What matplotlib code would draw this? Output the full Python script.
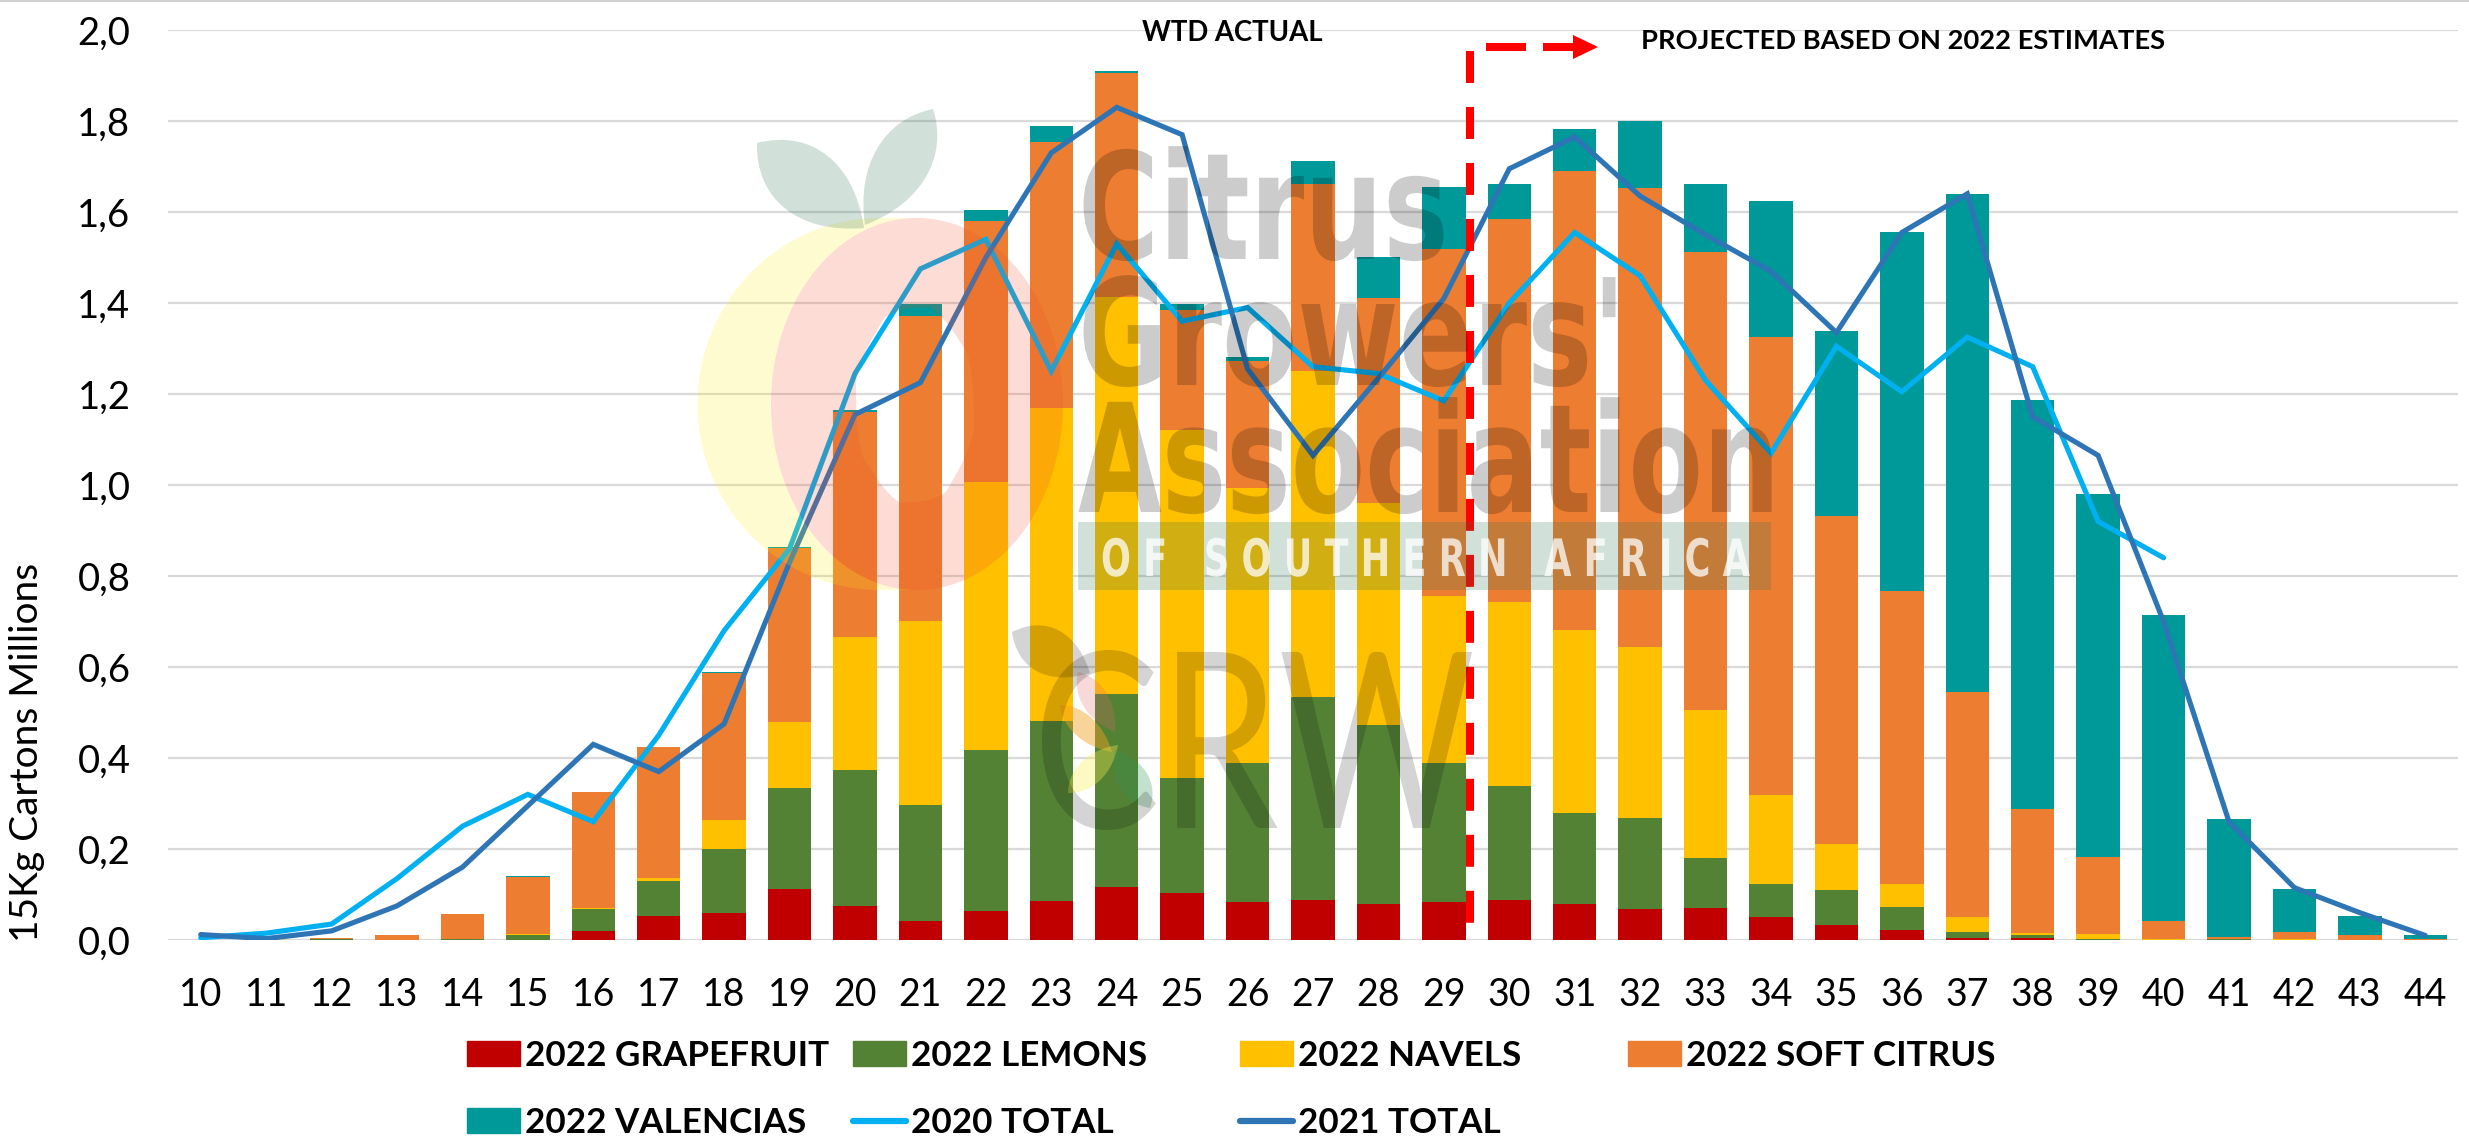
import matplotlib
matplotlib.use("Agg")
import numpy as np
import matplotlib.pyplot as plt
from matplotlib.patches import PathPatch, Patch, Rectangle
from matplotlib.path import Path
from matplotlib.lines import Line2D
from matplotlib.patheffects import AbstractPathEffect
from matplotlib.textpath import TextPath
from matplotlib.font_manager import FontProperties
from matplotlib.transforms import Affine2D

weeks = list(range(10, 45))
grapefruit = [0,0,0,0,0,0,.02,.053,.059,.111,.075,.042,.064,.086,.117,.104,.084,.089,.08,.084,.089,.08,.069,.07,.05,.032,.022,.005,.005,0,0,0,0,0,0]
lemons = [0,0,.003,0,.002,.012,.048,.077,.141,.222,.299,.255,.354,.395,.424,.252,.305,.444,.392,.306,.249,.199,.199,.11,.073,.078,.051,.013,.007,.003,0,.003,0,0,0]
navels = [0,0,0,0,0,.002,.002,.006,.064,.147,.293,.403,.589,.689,.873,.764,.605,.717,.488,.367,.405,.403,.375,.325,.195,.10,.05,.032,.003,.01,.003,0,.002,0,0]
soft_citrus = [0,0,.001,.011,.055,.125,.255,.288,.323,.381,.493,.672,.574,.584,.491,.264,.279,.412,.45,.761,.841,1.009,1.009,1.008,1.008,.721,.644,.495,.273,.169,.039,.004,.016,.01,.002]
valencias = [0,0,.001,.001,.001,.001,.001,.001,.001,.003,.004,.025,.024,.035,.004,.013,.009,.051,.09,.137,.078,.092,.148,.149,.298,.407,.788,1.095,.899,.798,.673,.26,.095,.043,.008]
total_2020 = [.005,.015,.035,.135,.25,.32,.26,.45,.68,.86,1.245,1.475,1.54,1.25,1.53,1.36,1.39,1.26,1.245,1.185,1.40,1.555,1.46,1.23,1.07,1.305,1.205,1.325,1.26,.92,.84]
total_2021 = [.012,.003,.02,.075,.16,.295,.43,.37,.475,.83,1.155,1.225,1.5,1.73,1.83,1.77,1.255,1.065,1.235,1.41,1.695,1.765,1.635,1.55,1.47,1.335,1.555,1.64,1.15,1.065,.70,.26,.115,.06,.01]
y_ticks = [0, .2, .4, .6, .8, 1.0, 1.2, 1.4, 1.6, 1.8, 2.0]

W, H = 2469, 1139
DPI = 100
plt.rcParams['font.family'] = ['Lato', 'DejaVu Sans']
fig = plt.figure(figsize=(W / DPI, H / DPI), dpi=DPI, facecolor='white')
ax = fig.add_axes([168 / W, 1 - 940 / H, (2458 - 168) / W, (940 - 30) / H])

C_GF, C_LE, C_NA, C_SO, C_VA = '#C00000', '#548235', '#FFC000', '#ED7D31', '#009999'
C_20, C_21 = '#00B0F0', '#2E75B6'
x = np.arange(len(weeks))
bottom = np.zeros(len(weeks))
series = [('2022 GRAPEFRUIT', grapefruit, C_GF), ('2022 LEMONS', lemons, C_LE), ('2022 NAVELS', navels, C_NA),
          ('2022 SOFT CITRUS', soft_citrus, C_SO), ('2022 VALENCIAS', valencias, C_VA)]
for name, vals, col in series:
    ax.bar(x, vals, width=0.665, bottom=bottom, color=col, label=name, linewidth=0)
    bottom += np.array(vals)
ax.plot(x[:len(total_2020)], total_2020, color=C_20, lw=3.7, label='2020 TOTAL', solid_joinstyle='miter', solid_capstyle='round', zorder=4)
ax.plot(x[:len(total_2021)], total_2021, color=C_21, lw=3.7, label='2021 TOTAL', solid_joinstyle='miter', solid_capstyle='round', zorder=4)

ax.set_xlim(-0.5, len(weeks) - 0.5)
ax.set_ylim(0, 2.0)
ax.set_xticks(x, [str(w) for w in weeks])
ax.set_yticks(y_ticks, [f'{v:.1f}'.replace('.', ',') for v in y_ticks])
ax.tick_params(axis='x', length=0, labelsize=27, pad=27, colors='black')
ax.tick_params(axis='y', length=0, labelsize=27.5, pad=27, colors='black')
ax.grid(axis='y', color='#D9D9D9', lw=1.6)
ax.set_axisbelow(True)
for s in ax.spines.values():
    s.set_visible(False)
ax.axhline(0, color='#D9D9D9', lw=2, zorder=0.5)
fig.text(27 / W, 1 - 752 / H, '15Kg Cartons Millions', rotation=90, ha='center', va='center', fontsize=28)


def fx(px):
    return px / W


def fy(py):
    return 1 - py / H


# Legend: one block per column
def col_legend(px, handles, labels):
    leg = fig.legend(handles, labels, loc='upper left', bbox_to_anchor=(fx(px), fy(1040)), frameon=False,
                     prop=FontProperties(family='Lato', weight='bold', size=25.2), handlelength=1.5, handleheight=0.72,
                     handletextpad=0.15, labelspacing=1.0, borderpad=0, borderaxespad=0)
    return leg


line = lambda c: Line2D([0], [0], color=c, lw=4.5, solid_capstyle='round')
col_legend(467, [Patch(color=C_GF), Patch(color=C_VA)], ['2022 GRAPEFRUIT', '2022 VALENCIAS'])
col_legend(853, [Patch(color=C_LE), line(C_20)], ['2022 LEMONS', '2020 TOTAL'])
col_legend(1240, [Patch(color=C_NA), line(C_21)], ['2022 NAVELS', '2021 TOTAL'])
col_legend(1628, [Patch(color=C_SO)], ['2022 SOFT CITRUS'])

# Annotations
fig.text(fx(1232), fy(33), 'WTD ACTUAL', ha='center', va='center', fontsize=19.8, fontweight='bold')
fig.text(fx(1641), fy(41), 'PROJECTED BASED ON 2022 ESTIMATES', ha='left', va='center', fontsize=19.7, fontweight='bold')

px_tr = Affine2D().scale(1, -1).translate(0, H)  # reference pixel coords -> display
fig.add_artist(Line2D([0, W], [0.5, 0.5], transform=px_tr, color='#D0D0D0', lw=1.5, zorder=1))
red = '#FF0000'
fig.add_artist(Line2D([1470, 1470], [51, 925], transform=px_tr, color=red, lw=5.8, linestyle=(0, (3.97, 2.98)), zorder=3))
fig.add_artist(Line2D([1490, 1522], [47, 47], transform=px_tr, color=red, lw=5.8, zorder=3))
fig.add_artist(Line2D([1547, 1575], [47, 47], transform=px_tr, color=red, lw=5.8, zorder=3))
fig.add_artist(PathPatch(Path([(1573, 35), (1598, 47), (1573, 59), (1573, 35)]), transform=px_tr, color=red, lw=0, zorder=3))


# ---------- Watermark (artwork over the chart) ----------
class VStretch(AbstractPathEffect):
    def __init__(self, k):
        super().__init__()
        self.k = k

    def draw_path(self, renderer, gc, tpath, affine, rgbFace=None):
        renderer.draw_path(gc, tpath, Affine2D().scale(1, self.k) + affine, rgbFace)


def fit_text(s, x0, x1, top, base, color, alpha, family='DejaVu Sans', weight='bold'):
    fp = FontProperties(family=family, weight=weight)
    ext = TextPath((0, 0), s, size=100, prop=fp).get_extents()
    size_px = 100 * (x1 - x0) / ext.width
    k = (base - top) / (ext.height * size_px / 100)
    t = fig.text(fx(x0), fy(base), s, fontproperties=fp, fontsize=size_px * 72 / DPI, ha='left', va='baseline',
                 color=color, alpha=alpha, zorder=6)
    t.set_path_effects([VStretch(k)])
    return t


def ellipse(cx, cy, w, h):
    return Path.unit_circle().transformed(Affine2D().scale(w / 2, h / 2).translate(cx, cy))


def half_ellipse_pts(cx, cy, w, h, start, stop):
    t = np.linspace(start, stop, 60)
    return np.column_stack([cx + w / 2 * np.cos(t), cy + h / 2 * np.sin(t)])


def lens(p0, p1, bulge):
    p0, p1 = np.array(p0, float), np.array(p1, float)
    d = p1 - p0
    n = np.array([-d[1], d[0]]) * bulge
    a, b = p0 + d * .35, p0 + d * .75
    verts = [p0, a + n, b + n, p1, b - n, a - n, p0]
    return Path(verts, [Path.MOVETO, Path.CURVE4, Path.CURVE4, Path.CURVE4, Path.CURVE4, Path.CURVE4, Path.CURVE4])


def wm_patch(path, color, alpha, z=5):
    fig.add_artist(PathPatch(path, transform=px_tr, facecolor=color, edgecolor='none', alpha=alpha, lw=0, zorder=z))


PINK = (917, 404, 292, 372)
hole = ellipse(915, 405, 118, 195)
hole = Path(hole.vertices[::-1], hole.codes)
crescent = np.vstack([half_ellipse_pts(880, 404, 365, 372, -np.pi / 2, -3 * np.pi / 2),
                      half_ellipse_pts(*PINK, np.pi / 2, 3 * np.pi / 2)])
wm_patch(Path(crescent), '#FFEB14', 0.2)
wm_patch(Path.make_compound_path(ellipse(*PINK), hole), '#F05028', 0.2)
wm_patch(lens((864, 228), (757, 143), 0.33), '#2E7456', 0.22)
wm_patch(lens((865, 225), (933, 109), 0.28), '#2E7456', 0.22)
wm_patch(lens((1090, 673), (1012, 632), 0.35), '#000000', 0.17)
wm_patch(lens((1115, 732), (1078, 672), 0.25), '#E36A6A', 0.25)
wm_patch(lens((1112, 752), (1060, 705), 0.22), '#F0A020', 0.45)
wm_patch(lens((1118, 745), (1068, 793), 0.25), '#F8EE50', 0.35)
wm_patch(lens((1115, 750), (1150, 808), 0.30), '#2E9456', 0.28)

fit_text('Citrus', 1078, 1438, 144, 259, '#000000', 0.2)
fit_text("Growers'", 1078, 1610, 273, 385, '#000000', 0.2)
fit_text('Association', 1078, 1771, 395, 512, '#000000', 0.2)
fig.add_artist(Rectangle((1078, 522), 693, 68, transform=px_tr, facecolor='#2E7456', edgecolor='none', alpha=0.22, zorder=5))
fit_text('O F   S O U T H E R N   A F R I C A', 1101, 1748, 537, 576, '#FFFFFF', 0.75)
fit_text('CRW', 1033, 1463, 648, 828, '#000000', 0.17, family='Lato', weight='normal')

fig.savefig('out.png', dpi=DPI, facecolor='white')
